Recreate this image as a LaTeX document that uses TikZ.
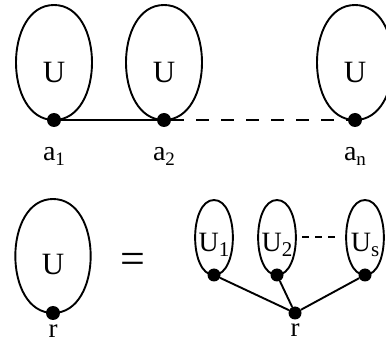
\documentclass[tikz,border=0pt]{standalone}
\usepackage{fontspec}
\setmainfont{Liberation Serif}
\usepackage{tikz}
\usetikzlibrary{positioning}
\newcommand{\lowidx}[2]{\raisebox{-5pt}{\fontsize{#1}{#1}\selectfont #2}}
\tikzset{
  rootdot/.style={circle, fill=black, inner sep=0pt, minimum size=14pt},
  leafdot/.style={circle, fill=black, inner sep=0pt, minimum size=13pt},
  bigloop/.style={line width=1.9pt, looseness=1.13},
  smallloop/.style={line width=1.9pt, looseness=0.86},
  treeedge/.style={line width=1.9pt},
  chaindash/.style={line width=1.9pt, dash pattern=on 13pt off 12pt},
  leafdash/.style={line width=1.9pt, dash pattern=on 7pt off 6pt},
  bigtext/.style={inner sep=1pt, font=\fontsize{31pt}{36pt}\selectfont},
  smalltext/.style={inner sep=0pt, font=\fontsize{28pt}{32pt}\selectfont},
  rootlabel/.style={inner sep=1pt, font=\fontsize{28pt}{32pt}\selectfont},
  rlabel/.style={inner sep=1pt, font=\fontsize{27pt}{30pt}\selectfont},
  eqsign/.style={inner sep=0pt, font=\fontsize{44pt}{48pt}\selectfont}
}
\begin{document}
\begin{tikzpicture}[x=1pt, y=1pt]
\useasboundingbox (0,0) rectangle (386,343);
% chain a_1 ... a_n
\node[rootdot] (a1) at (54,223) {};
\node[rootdot] (a2) at (164,223) {};
\node[rootdot] (an) at (355,223) {};
\coordinate (ta1) at (54,338);
\coordinate (ta2) at (164,338);
\coordinate (tan) at (355,338);
\draw[bigloop] (a1.center) to[out=180,in=180] (ta1) to[out=0,in=0] (a1.center);
\draw[bigloop] (a2.center) to[out=180,in=180] (ta2) to[out=0,in=0] (a2.center);
\draw[bigloop] (an.center) to[out=180,in=180] (tan) to[out=0,in=0] (an.center);
\node[bigtext] (ua1) at (54,270) {U};
\node[bigtext] (ua2) at (164,270) {U};
\node[bigtext] (uan) at (355,270) {U};
\node[rootlabel, below=19pt of a1] (la1) {a\lowidx{19pt}{1}};
\node[rootlabel, below=19pt of a2] (la2) {a\lowidx{19pt}{2}};
\node[rootlabel, below=19pt of an] (lan) {a\lowidx{19pt}{n}};
\draw[treeedge] (a1) -- (a2);
\draw[chaindash] (a2) -- (an);

% U rooted at r = subtrees U_1 ... U_s
\node[rootdot] (r1) at (53,30) {};
\coordinate (tr1) at (53,144);
\draw[bigloop] (r1.center) to[out=180,in=180] (tr1) to[out=0,in=0] (r1.center);
\node[bigtext] (ur) at (53,78) {U};
\node[rlabel, below=3pt of r1] (lr1) {r};
\node[eqsign] (eq) at (133,80) {=};

\node[leafdot] (b1) at (214,68) {};
\node[leafdot] (b2) at (277,68) {};
\node[leafdot] (bs) at (365,68) {};
\node[leafdot] (r2) at (295,30) {};
\coordinate (tb1) at (214,143);
\coordinate (tb2) at (277,143);
\coordinate (tbs) at (365,143);
\draw[smallloop] (b1.center) to[out=180,in=180] (tb1) to[out=0,in=0] (b1.center);
\draw[smallloop] (b2.center) to[out=180,in=180] (tb2) to[out=0,in=0] (b2.center);
\draw[smallloop] (bs.center) to[out=180,in=180] (tbs) to[out=0,in=0] (bs.center);
\node[smalltext] (u1) at (214,98) {U\lowidx{21pt}{1}};
\node[smalltext] (u2) at (277,98) {U\lowidx{21pt}{2}};
\node[smalltext] (us) at (365,98) {U\lowidx{21pt}{s}};
\coordinate (dl) at (302,106);
\coordinate (dr) at (335,106);
\draw[leafdash] (dl) -- (dr);
\draw[treeedge] (b1) -- (r2);
\draw[treeedge] (b2) -- (r2);
\draw[treeedge] (bs) -- (r2);
\node[rlabel, below=3pt of r2] (lr2) {r};
\end{tikzpicture}
\end{document}
